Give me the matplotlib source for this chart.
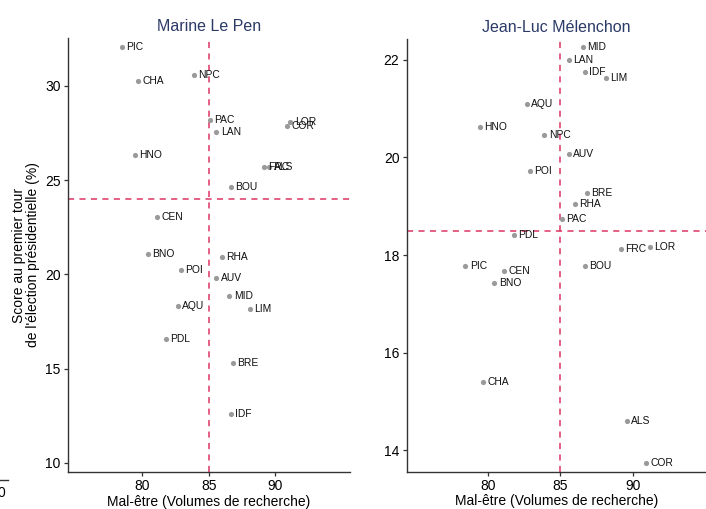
import matplotlib.pyplot as plt

plt.rcParams['font.family'] = ['Liberation Sans', 'DejaVu Sans']

# Régions (codes) et mal-être (volumes de recherche)
regions = ['PIC', 'CHA', 'NPC', 'PAC', 'LAN', 'LOR', 'COR', 'HNO', 'FRC', 'ALS', 'BOU',
           'CEN', 'BNO', 'RHA', 'POI', 'AUV', 'MID', 'AQU', 'LIM', 'PDL', 'BRE', 'IDF']
mal_etre = [78.46, 79.66, 83.9, 85.1, 85.56, 91.13, 90.9, 79.45, 89.13, 89.55, 86.68,
            81.1, 80.45, 86.0, 82.9, 85.56, 86.55, 82.68, 88.11, 81.78, 86.8, 86.66]

# Scores au premier tour (%)
score_lepen = [32.03, 30.25, 30.55, 28.18, 27.53, 28.06, 27.86, 26.34, 25.71, 25.71, 24.65,
               23.06, 21.06, 20.9, 20.22, 19.83, 18.84, 18.31, 18.17, 16.59, 15.3, 12.57]
score_melenchon = [17.77, 15.4, 20.45, 18.73, 21.99, 18.17, 13.74, 20.63, 18.13, 14.6, 17.77,
                   17.67, 17.42, 19.04, 19.73, 20.08, 22.26, 21.1, 21.62, 18.4, 19.28, 21.75]

mean_x = 85
mean_lepen = 24
mean_melenchon = 18.5

W, H = 706, 509
fig = plt.figure(figsize=(W / 100, H / 100), dpi=100)

ax1 = fig.add_axes([68 / W, 1 - 472 / H, (350 - 68) / W, (472 - 38) / H])
ax2 = fig.add_axes([406.7 / W, 1 - 471.7 / H, (706 - 406.7) / W, (471.7 - 39.3) / H])

dash_col = '#dc3663'
title_col = '#2b3a67'


def panel(ax, scores, hline, title, yticks, ylim, xlim):
    ax.scatter(mal_etre, scores, s=14, color='#9a9a9a', zorder=3, linewidths=0)
    for name, x, y in zip(regions, mal_etre, scores):
        ax.annotate(name, (x, y), xytext=(3.2, 0), textcoords='offset points',
                    ha='left', va='center', fontsize=7.4, color='#111111', zorder=4)
    ax.axvline(mean_x, color=dash_col, lw=1.1, ls=(0, (4, 3.5)), zorder=2)
    ax.axhline(hline, color=dash_col, lw=1.1, ls=(0, (4, 3.5)), zorder=2)
    ax.set_xlim(*xlim)
    ax.set_ylim(*ylim)
    ax.set_xticks([80, 85, 90])
    ax.set_yticks(yticks)
    for s in ['top', 'right']:
        ax.spines[s].set_visible(False)
    for s in ['left', 'bottom']:
        ax.spines[s].set_color('#333333')
        ax.spines[s].set_linewidth(1.0)
    ax.tick_params(direction='out', length=3.2, width=0.9, labelsize=10,
                   color='#333333', pad=2)
    ax.set_title(title, color=title_col, fontsize=11.5, pad=5)
    ax.set_xlabel('Mal-être (Volumes de recherche)', fontsize=10, labelpad=1)


panel(ax1, score_lepen, mean_lepen, 'Marine Le Pen', [10, 15, 20, 25, 30],
      (9.52, 32.53), (74.44, 95.6))
panel(ax2, score_melenchon, mean_melenchon, 'Jean-Luc Mélenchon', [14, 16, 18, 20, 22],
      (13.56, 22.42), (74.44, 95.0))

ax1.set_ylabel("Score au premier tour\nde l'élection présidentielle (%)",
               fontsize=10, labelpad=4, linespacing=1.0)

# fragment du panneau voisin (coupé)
fig.text(-0.004, 1 - 493 / H, '0', fontsize=10, va='center', ha='left')
fig.add_artist(plt.Line2D([0, 8 / W], [1 - 480 / H, 1 - 480 / H], color='#333333', lw=1.0))

fig.savefig('out.png', dpi=100)
